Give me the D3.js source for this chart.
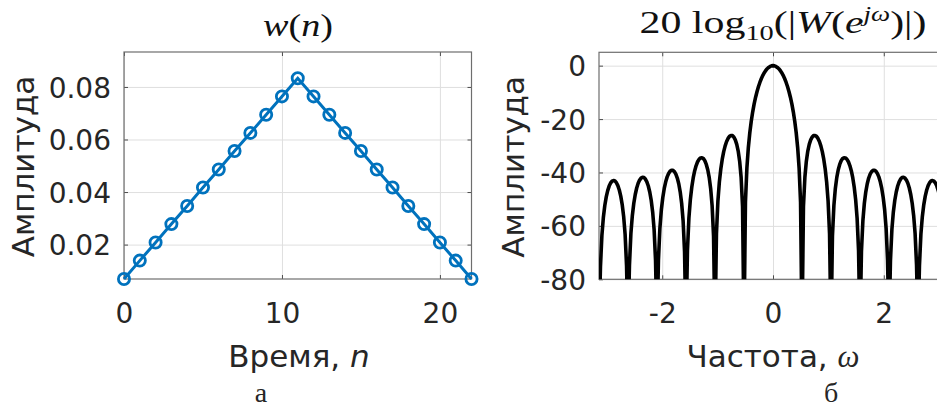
<!DOCTYPE html>
<html>
<head>
<meta charset="utf-8">
<script src="https://cdn.jsdelivr.net/npm/d3@7"></script>
<style>
body {margin: 0; background: #fff;}
svg text {fill: #262626;}
.tick text {font-family: "DejaVu Sans", sans-serif; font-size: 28px;}
.grid line {stroke: #dfdfdf; stroke-width: 1;}
.grid path, .axis path {display: none;}
.axis line {stroke: #262626; stroke-width: 0.8;}
.box {fill: none; stroke: #6e6e6e; stroke-width: 1.2;}
.lbl {font-family: "DejaVu Sans", sans-serif; font-size: 31px;}
.ttl {font-family: "Liberation Serif", serif; fill: #111;}
.cap {font-family: "Liberation Serif", serif; font-size: 28px;}
</style>
</head>
<body>
<svg width="937" height="409"></svg>
<script>
// left panel: window samples
var sampleN = [0,1,2,3,4,5,6,7,8,9,10,11,12,13,14,15,16,17,18,19,20,21,22];
var windowVals = [0.0069,0.0139,0.0208,0.0278,0.0347,0.0417,0.0486,0.0556,0.0625,0.0694,0.0764,0.0833,
                  0.0764,0.0694,0.0625,0.0556,0.0486,0.0417,0.0347,0.0278,0.0208,0.0139,0.0069];
var leftXTicks = [0, 10, 20];
var leftYTicks = [0.02, 0.04, 0.06, 0.08];

// right panel: magnitude in dB, read on a grid of 241 frequencies from -pi to pi
var magDb = [
 -100,
 -75.4,-63.56,-56.88,-52.38,-49.15,-46.8,-45.1,-43.94,-43.27,-43.02,-43.21,-43.82,-44.92,-46.56,-48.85,-52.02,-56.46,-63.08,-74.86,
 -100,
 -74.73,-62.84,-56.09,-51.53,-48.24,-45.82,-44.06,-42.85,-42.11,-41.79,-41.92,-42.47,-43.5,-45.07,-47.3,-50.4,-54.77,-61.33,-73.03,
 -100,
 -72.77,-60.8,-53.98,-49.34,-45.98,-43.49,-41.65,-40.36,-39.54,-39.15,-39.19,-39.66,-40.6,-42.09,-44.24,-47.24,-51.53,-57.99,-69.6,
 -100,
 -69.15,-57.08,-50.16,-45.42,-41.95,-39.35,-37.4,-35.99,-35.06,-34.55,-34.47,-34.81,-35.62,-36.98,-38.98,-41.84,-45.98,-52.29,-63.75,
 -100,
 -62.96,-50.72,-43.61,-38.68,-35.02,-32.21,-30.04,-28.41,-27.24,-26.48,-26.14,-26.21,-26.74,-27.79,-29.47,-32,-35.77,-41.7,-52.75,
 -100,
 -51.05,-38.3,-30.64,-25.12,-20.8,-17.28,-14.32,-11.81,-9.66,-7.8,-6.2,-4.81,-3.63,-2.63,-1.81,-1.15,-0.65,-0.29,-0.08,
 0,
 -0.08,-0.29,-0.65,-1.15,-1.81,-2.63,-3.63,-4.81,-6.2,-7.8,-9.66,-11.81,-14.32,-17.28,-20.8,-25.12,-30.64,-38.3,-51.05,
 -100,
 -52.75,-41.7,-35.77,-32,-29.47,-27.79,-26.74,-26.21,-26.14,-26.48,-27.24,-28.41,-30.04,-32.21,-35.02,-38.68,-43.61,-50.72,-62.96,
 -100,
 -63.75,-52.29,-45.98,-41.84,-38.98,-36.98,-35.62,-34.81,-34.47,-34.55,-35.06,-35.99,-37.4,-39.35,-41.95,-45.42,-50.16,-57.08,-69.15,
 -100,
 -69.6,-57.99,-51.53,-47.24,-44.24,-42.09,-40.6,-39.66,-39.19,-39.15,-39.54,-40.36,-41.65,-43.49,-45.98,-49.34,-53.98,-60.8,-72.77,
 -100,
 -73.03,-61.33,-54.77,-50.4,-47.3,-45.07,-43.5,-42.47,-41.92,-41.79,-42.11,-42.85,-44.06,-45.82,-48.24,-51.53,-56.09,-62.84,-74.73,
 -100,
 -74.86,-63.08,-56.46,-52.02,-48.85,-46.56,-44.92,-43.82,-43.21,-43.02,-43.27,-43.94,-45.1,-46.8,-49.15,-52.38,-56.88,-63.56,-75.4,
 -100
];
var omega = d3.range(-120, 121).map(function(j) { return j * Math.PI / 120; });
var rightXTicks = [-2, 0, 2];
var rightYTicks = [-80, -60, -40, -20, 0];

var svg = d3.select("svg");
var plain = function(d) { return String(d); };  // hyphen minus like the original

function panel(o) {
  var g = svg.append("g");
  var x = d3.scaleLinear().domain(o.xDom).range([o.x0, o.x1]);
  var y = d3.scaleLinear().domain(o.yDom).range([o.y1, o.y0]);
  var h = o.y1 - o.y0, w = o.x1 - o.x0;

  // grid
  g.append("g").attr("class", "grid").attr("transform", "translate(0," + o.y1 + ")")
    .call(d3.axisBottom(x).tickValues(o.xTicks).tickSize(-h).tickFormat(""));
  g.append("g").attr("class", "grid").attr("transform", "translate(" + o.x0 + ",0)")
    .call(d3.axisLeft(y).tickValues(o.yTicks).tickSize(-w).tickFormat(""));

  // inward ticks on all four sides
  var xa = g.append("g").attr("class", "axis").attr("transform", "translate(0," + o.y1 + ")")
    .call(d3.axisBottom(x).tickValues(o.xTicks).tickSize(-4).tickFormat(plain));
  xa.selectAll("text").attr("y", 44).attr("dy", 0);
  g.append("g").attr("class", "axis").attr("transform", "translate(0," + o.y0 + ")")
    .call(d3.axisTop(x).tickValues(o.xTicks).tickSize(-4).tickFormat(""));
  var ya = g.append("g").attr("class", "axis").attr("transform", "translate(" + o.x0 + ",0)")
    .call(d3.axisLeft(y).tickValues(o.yTicks).tickSize(-4).tickFormat(o.yFmt));
  ya.selectAll("text").attr("x", -13).attr("dy", "0.36em");
  g.append("g").attr("class", "axis").attr("transform", "translate(" + o.x1 + ",0)")
    .call(d3.axisRight(y).tickValues(o.yTicks).tickSize(-4).tickFormat(""));

  g.append("rect").attr("class", "box")
    .attr("x", o.x0).attr("y", o.y0).attr("width", w).attr("height", h);

  // axis labels
  var xl = g.append("text").attr("class", "lbl").attr("x", o.xLabX).attr("y", 367)
    .attr("text-anchor", "middle");
  xl.append("tspan").text(o.xLabel);
  xl.append("tspan").text(o.xVar).style("font-style", "italic")
    .style("font-family", o.xVarFont);
  g.append("text").attr("class", "lbl").attr("text-anchor", "middle")
    .attr("transform", "translate(" + o.yLabX + "," + ((o.y0 + o.y1) / 2 + 1) + ") rotate(-90)")
    .text("Амплитуда");

  return {g: g, x: x, y: y};
}

// ---- left: w(n)
var L = panel({
  x0: 124, x1: 471.5, y0: 52, y1: 279,
  xDom: [0, 22], yDom: [d3.min(windowVals), d3.max(windowVals) + 0.01],
  xTicks: leftXTicks, yTicks: leftYTicks, yFmt: d3.format(".2f"),
  xLabel: "Время, ", xVar: "n", xVarFont: "DejaVu Sans", xLabX: 299, yLabX: 34
});

L.g.append("path").datum(sampleN)
  .attr("fill", "none").attr("stroke", "#0072BD").attr("stroke-width", 3)
  .attr("d", d3.line().x(function(i) { return L.x(i); }).y(function(i) { return L.y(windowVals[i]); }));
L.g.selectAll("circle").data(sampleN).enter().append("circle")
  .attr("cx", function(i) { return L.x(i); })
  .attr("cy", function(i) { return L.y(windowVals[i]); })
  .attr("r", 5.6).attr("fill", "none").attr("stroke", "#0072BD").attr("stroke-width", 2.8);

// ---- right: 20 log10 |W|
var R = panel({
  x0: 599, x1: 947, y0: 52.3, y1: 279.3,
  xDom: [-Math.PI, Math.PI], yDom: [-80, 5],
  xTicks: rightXTicks, yTicks: rightYTicks, yFmt: plain,
  xLabel: "Частота, ", xVar: "ω", xVarFont: "Liberation Serif", xLabX: 773, yLabX: 524
});

svg.append("clipPath").attr("id", "clipR").append("rect")
  .attr("x", 599).attr("y", 52.3).attr("width", 348).attr("height", 227);
R.g.append("path").datum(d3.range(omega.length))
  .attr("clip-path", "url(#clipR)")
  .attr("fill", "none").attr("stroke", "#000").attr("stroke-width", 3.6)
  .attr("stroke-linejoin", "round")
  .attr("d", d3.line().x(function(i) { return R.x(omega[i]); }).y(function(i) { return R.y(magDb[i]); }));

// ---- titles (LaTeX-like)
function fitTitle(t, cx, width) {
  var b = t.node().getBBox();
  t.attr("transform", "translate(" + cx + ",0) scale(" + (width / b.width) + ",1) translate(" + (-b.x - b.width / 2) + ",0)");
}
var t1 = svg.append("text").attr("class", "ttl").attr("y", 36).style("font-size", "31px");
t1.append("tspan").text("w").style("font-style", "italic");
t1.append("tspan").text("(");
t1.append("tspan").text("n").style("font-style", "italic");
t1.append("tspan").text(")");
fitTitle(t1, 298, 70);

var t2 = svg.append("text").attr("class", "ttl").attr("y", 33).style("font-size", "31px");
t2.append("tspan").text("20 log");
t2.append("tspan").text("10").style("font-size", "21px").attr("dy", 7);
t2.append("tspan").text("(|").attr("dy", -7);
t2.append("tspan").text("W").style("font-style", "italic");
t2.append("tspan").text("(");
t2.append("tspan").text("e").style("font-style", "italic");
t2.append("tspan").text("jω").style("font-style", "italic").style("font-size", "20px").attr("dy", -12);
t2.append("tspan").text(")|)").attr("dy", 12);
fitTitle(t2, 783, 287);

// ---- captions
svg.append("text").attr("class", "cap").attr("x", 261).attr("y", 402).attr("text-anchor", "middle").text("а");
svg.append("text").attr("class", "cap").attr("x", 831).attr("y", 402).attr("text-anchor", "middle").text("б");
</script>
</body>
</html>
